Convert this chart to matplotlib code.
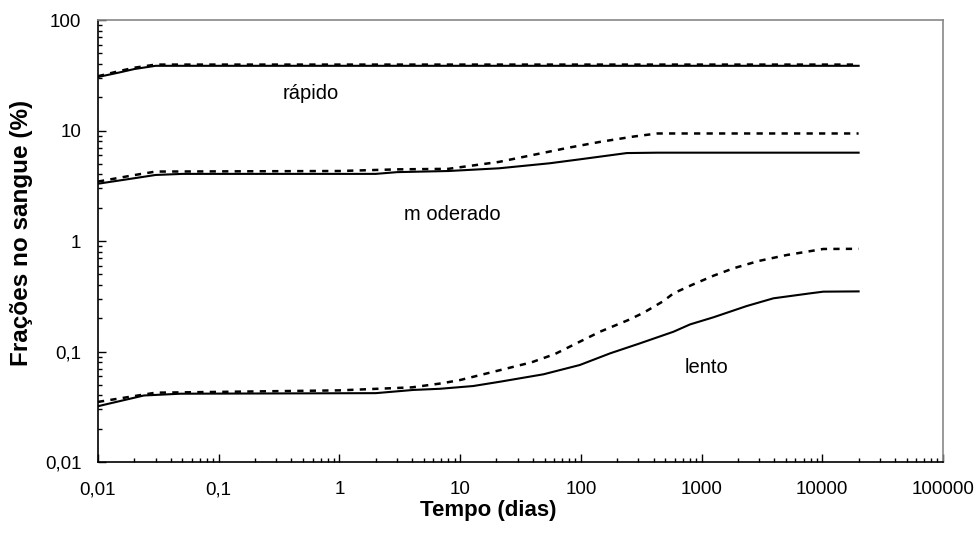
import matplotlib
matplotlib.use("Agg")
import matplotlib.pyplot as plt
from matplotlib.ticker import FixedLocator, FixedFormatter, LogLocator, NullFormatter

plt.rcParams['font.family'] = ['Liberation Sans', 'DejaVu Sans']

# data
rapido_t = [0.01, 0.015, 0.02, 0.03, 1, 100, 20000]
rapido_solid = [30.5, 33.5, 36.0, 38.5, 38.5, 38.5, 38.5]
rapido_dashed = [31.0, 34.5, 37.0, 39.5, 39.5, 39.5, 39.5]

mod_solid_t = [0.01, 0.02, 0.03, 0.05, 2, 3, 8, 21, 55, 100, 240, 430, 20000]
mod_solid = [3.3, 3.7, 3.96, 4.05, 4.05, 4.2, 4.3, 4.55, 5.05, 5.5, 6.25, 6.3, 6.3]
mod_dashed_t = [0.01, 0.02, 0.03, 1, 3, 8, 21, 77, 145, 270, 430, 20000]
mod_dashed = [3.45, 3.95, 4.25, 4.3, 4.45, 4.5, 5.2, 6.95, 7.9, 8.8, 9.4, 9.4]

lento_solid_t = [0.01, 0.024, 0.048, 2, 4.1, 6.8, 12.8, 21.4, 49, 98, 175, 309, 585,
                 804, 1254, 2366, 3936, 7925, 10200, 20000]
lento_solid = [0.032, 0.040, 0.0415, 0.042, 0.0449, 0.046, 0.0487, 0.0533, 0.0622,
               0.0755, 0.0963, 0.1186, 0.151, 0.176, 0.204, 0.258, 0.303, 0.336,
               0.348, 0.35]
lento_dashed_t = [0.01, 0.03, 1, 4, 7, 10, 22.8, 39, 61, 92, 144, 248, 330, 483, 585,
                  830, 1254, 1836, 2960, 5080, 10200, 20000]
lento_dashed = [0.035, 0.0424, 0.0445, 0.0474, 0.0515, 0.0552, 0.069, 0.0798, 0.0949,
                0.1186, 0.151, 0.193, 0.224, 0.286, 0.336, 0.40, 0.485, 0.566, 0.659,
                0.747, 0.847, 0.85]

x_ticks = [0.01, 0.1, 1, 10, 100, 1000, 10000, 100000]
x_labels = ['0,01', '0,1', '1', '10', '100', '1000', '10000', '100000']
y_ticks = [0.01, 0.1, 1, 10, 100]
y_labels = ['0,01', '0,1', '1', '10', '100']

fig = plt.figure(figsize=(9.78, 5.48), dpi=100)
ax = fig.add_axes([0.1002, 0.1569, 0.8640, 0.8066])

lw = 1.5
dash = (0, (2.5, 2.5))
ax.plot(rapido_t, rapido_solid, color='k', lw=lw)
ax.plot(rapido_t, rapido_dashed, color='k', lw=1.8, linestyle=dash)
ax.plot(mod_solid_t, mod_solid, color='k', lw=lw)
ax.plot(mod_dashed_t, mod_dashed, color='k', lw=1.8, linestyle=dash)
ax.plot(lento_solid_t, lento_solid, color='k', lw=lw)
ax.plot(lento_dashed_t, lento_dashed, color='k', lw=1.8, linestyle=dash)

ax.set_xscale('log')
ax.set_yscale('log')
ax.set_xlim(0.01, 100000)
ax.set_ylim(0.01, 100)

ax.xaxis.set_major_locator(FixedLocator(x_ticks))
ax.xaxis.set_major_formatter(FixedFormatter(x_labels))
ax.yaxis.set_major_locator(FixedLocator(y_ticks))
ax.yaxis.set_major_formatter(FixedFormatter(y_labels))
ax.xaxis.set_minor_locator(LogLocator(base=10, subs=range(2, 10), numticks=20))
ax.yaxis.set_minor_locator(LogLocator(base=10, subs=range(2, 10), numticks=20))
ax.xaxis.set_minor_formatter(NullFormatter())
ax.yaxis.set_minor_formatter(NullFormatter())

ax.tick_params(which='major', direction='in', length=6, width=1, labelsize=13.5)
ax.tick_params(which='minor', direction='in', length=3, width=1)
ax.tick_params(axis='x', pad=14)
ax.tick_params(axis='y', pad=12)

for s in ['left', 'bottom']:
    ax.spines[s].set_color('k')
    ax.spines[s].set_linewidth(1.2)
for s in ['top', 'right']:
    ax.spines[s].set_color('#888888')
    ax.spines[s].set_linewidth(1.2)

ax.text(0.58, 21.8, 'rápido', fontsize=14.5, ha='center', va='center')
ax.text(8.6, 1.75, 'm oderado', fontsize=14.5, ha='center', va='center')
ax.text(1090, 0.0724, 'lento', fontsize=14.5, ha='center', va='center')

ax.set_xlabel('Tempo (dias)', fontsize=16, fontweight='bold')
ax.set_ylabel('Frações no sangue (%)', fontsize=17.5, fontweight='bold')
ax.xaxis.set_label_coords(0.4615, -0.1086)
ax.yaxis.set_label_coords(-0.090, 0.518)
ax.xaxis.label.set_va('center')
ax.yaxis.label.set_va('center')

fig.savefig('out.png', dpi=100)
